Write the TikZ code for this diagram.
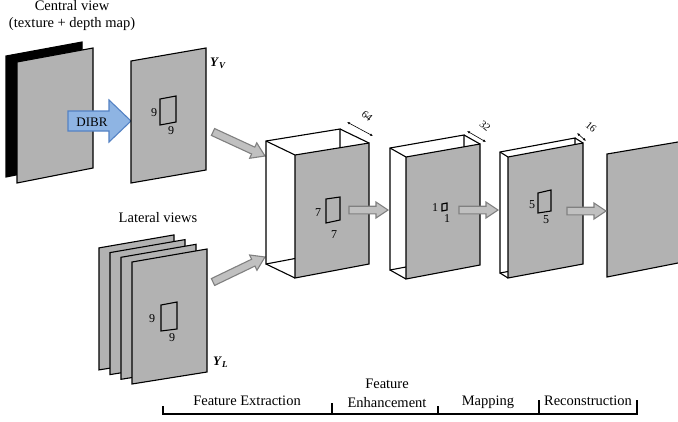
\documentclass[tikz,border=0pt]{standalone}
\usepackage{fontspec}
\setmainfont{Liberation Serif}
\usetikzlibrary{calc,arrows.meta}

\definecolor{panelgray}{RGB}{178,178,178}
\definecolor{flowfill}{RGB}{192,192,192}
\definecolor{flowline}{RGB}{128,128,128}
\definecolor{dibrfill}{RGB}{142,180,227}
\definecolor{dibrline}{RGB}{84,130,196}

\tikzset{
  panel/.style={fill=panelgray, draw=black, line width=1.1pt, line join=miter},
  boxline/.style={fill=white, draw=black, line width=1.1pt, line join=miter},
  edge/.style={draw=black, line width=1.1pt},
  kernel/.style={draw=black, line width=1.1pt, line join=miter},
  flow/.style={fill=flowfill, draw=flowline, line width=1.1pt, line join=miter},
  dibr/.style={fill=dibrfill, draw=dibrline, line width=1.1pt, line join=miter},
  lbl/.style={font=\fontsize{14.5}{16}\selectfont, inner sep=0pt, anchor=base},
  dibrlbl/.style={font=\fontsize{13}{14}\selectfont, inner sep=0pt, anchor=base},
  dig/.style={font=\fontsize{12}{13}\selectfont, inner sep=0pt},
  dimlbl/.style={font=\fontsize{10.5}{11}\selectfont, inner sep=0pt, rotate=-40},
  dimarrow/.style={{Latex[length=3pt,width=2.6pt]}-{Latex[length=3pt,width=2.6pt]}, line width=0.6pt},
  bracket/.style={line width=1.1pt},
  ylbl/.style={font=\fontsize{13}{14}\selectfont, inner sep=0pt, anchor=base west},
}

% block arrow: style, from, to, shaft half-width, head half-width, head length
\newcommand\blockarrow[6]{%
  \path ($(#3)!#6!(#2)$) coordinate (ba-neck);
  \filldraw[#1] ($(#2)!#4!90:(#3)$) -- ($(ba-neck)!#4!90:(#3)$)
    -- ($(ba-neck)!#5!90:(#3)$) -- (#3) -- ($(ba-neck)!#5!-90:(#3)$)
    -- ($(ba-neck)!#4!-90:(#3)$) -- ($(#2)!#4!-90:(#3)$) -- cycle;
}

% feature-map block: name, front TL, TR, BR, BL, depth offset
\newcommand\featblock[6]{%
  \coordinate (#1-tl) at (#2); \coordinate (#1-tr) at (#3);
  \coordinate (#1-br) at (#4); \coordinate (#1-bl) at (#5);
  \coordinate (#1-btl) at ($(#1-tl)+(#6)$); \coordinate (#1-btr) at ($(#1-tr)+(#6)$);
  \coordinate (#1-bbr) at ($(#1-br)+(#6)$); \coordinate (#1-bbl) at ($(#1-bl)+(#6)$);
  \filldraw[boxline] (#1-btl) -- (#1-btr) -- (#1-bbr) -- (#1-bbl) -- cycle;
  \draw[edge] (#1-btl) -- (#1-tl) (#1-btr) -- (#1-tr) (#1-bbl) -- (#1-bl);
  \filldraw[panel] (#1-tl) -- (#1-tr) -- (#1-br) -- (#1-bl) -- cycle;
}

\begin{document}
\begin{tikzpicture}[x=1pt, y=-1pt]
\fill[white] (0,0) rectangle (678,421);
\useasboundingbox (0,0) rectangle (678,421);

% ---- central view: texture + depth map
\node[lbl] (cv1) at (72,10) {Central view};
\node[lbl] (cv2) at (72,27) {(texture + depth map)};
\filldraw[fill=black, draw=black, line width=1.1pt] (6,56) -- (82,42) -- (82,162) -- (6,177) -- cycle;
\filldraw[panel] (17,62) -- (93,48) -- (93,168) -- (17,183) -- cycle;

% ---- DIBR arrow
\coordinate (dibr-a) at (68,121);
\coordinate (dibr-b) at (131,121);
\blockarrow{dibr}{dibr-a}{dibr-b}{10pt}{21pt}{22pt}
\node[dibrlbl] (dibrtxt) at (92,126) {DIBR};

% ---- synthesized view Y_V
\filldraw[panel] (131,61) -- (206,48) -- (206,170) -- (131,183) -- cycle;
\draw[kernel] (160,99) -- (176,96) -- (176,122) -- (160,125) -- cycle;
\node[dig] (yvk1) at (154,113) {9};
\node[dig] (yvk2) at (171,131) {9};
\node[ylbl] (yv) at (210,66) {\textbf{\textit{Y}}\raisebox{-0.35ex}{\fontsize{9}{9}\selectfont\bfseries\itshape V}};

% ---- lateral views Y_L
\node[lbl] (lv) at (158,222) {Lateral views};
\foreach \k in {3,2,1,0}{
  \begin{scope}[shift={(-11*\k,-4.7*\k)}]
    \filldraw[panel] (132,262) -- (207,249) -- (207,372) -- (132,384) -- cycle;
  \end{scope}
}
\draw[kernel] (161,305) -- (177,302) -- (177,329) -- (161,331) -- cycle;
\node[dig] (ylk1) at (152,319) {9};
\node[dig] (ylk2) at (172,338) {9};
\node[ylbl] (yl) at (213,365) {\textbf{\textit{Y}}\raisebox{-0.35ex}{\fontsize{9}{9}\selectfont\bfseries\itshape L}};

% ---- arrows into feature extraction
\coordinate (yv-out) at (213,132);
\coordinate (fe-in1) at (265,156);
\coordinate (yl-out) at (213,282);
\coordinate (fe-in2) at (265,257);
\blockarrow{flow}{yv-out}{fe-in1}{3.8pt}{8.5pt}{13pt}
\blockarrow{flow}{yl-out}{fe-in2}{3.8pt}{8.5pt}{13pt}

% ---- feature extraction (64 maps)
\featblock{fe}{295,155}{369,143}{369,264}{295,278}{-29,-14}
\draw[kernel] (326,199) -- (340,197) -- (340,220) -- (326,223) -- cycle;
\node[dig] (fek1) at (318,213) {7};
\node[dig] (fek2) at (334,235) {7};
\coordinate (fe-d1) at (347,122);
\coordinate (fe-d2) at (373,136);
\draw[dimarrow] (fe-d1) -- (fe-d2);
\node[dimlbl] (fen) at (367,116) {64};

% ---- feature enhancement (32 maps)
\featblock{en}{406,157}{480,144}{480,265}{406,279}{-16,-9}
\draw[kernel] (442,204) -- (447,203) -- (447,210) -- (442,211) -- cycle;
\node[dig] (enk1) at (435,208) {1};
\node[dig] (enk2) at (447,219) {1};
\coordinate (en-d1) at (467,131);
\coordinate (en-d2) at (486,142);
\draw[dimarrow] (en-d1) -- (en-d2);
\node[dimlbl] (enn) at (485,126) {32};

% ---- mapping (16 maps)
\featblock{mp}{508,157}{583,143}{583,264}{508,278}{-8,-5}
\draw[kernel] (538,193) -- (551,190) -- (551,211) -- (538,213) -- cycle;
\node[dig] (mpk1) at (532,205) {5};
\node[dig] (mpk2) at (546,220) {5};
\coordinate (mp-d1) at (577,133);
\coordinate (mp-d2) at (586,141);
\draw[dimarrow] (mp-d1) -- (mp-d2);
\node[dimlbl] (mpn) at (591,127) {16};

% ---- reconstruction output
\fill[panelgray] (607,154) -- (678,142) -- (678,263) -- (607,277) -- cycle;
\draw[edge, line join=miter] (678,142) -- (607,154) -- (607,277) -- (678,263);

% ---- arrows between stages
\coordinate (fe-out) at (349,210);
\coordinate (en-in) at (388,210);
\coordinate (en-out) at (459,210);
\coordinate (mp-in) at (498,210);
\coordinate (mp-out) at (567,211);
\coordinate (rc-in) at (606,211);
\blockarrow{flow}{fe-out}{en-in}{3.8pt}{8pt}{12pt}
\blockarrow{flow}{en-out}{mp-in}{3.8pt}{8pt}{12pt}
\blockarrow{flow}{mp-out}{rc-in}{3.8pt}{8pt}{12pt}

% ---- stage bracket
\draw[bracket] (163,406) -- (163,414) -- (637,414) -- (637,400);
\draw[bracket] (332,403) -- (332,414);
\draw[bracket] (438,406) -- (438,414);
\draw[bracket] (539,400) -- (539,414);
\node[lbl] (s1) at (247,405) {Feature Extraction};
\node[lbl] (s2a) at (387,388) {Feature};
\node[lbl] (s2b) at (387,407) {Enhancement};
\node[lbl] (s3) at (488,405) {Mapping};
\node[lbl] (s4) at (588,405) {Reconstruction};
\end{tikzpicture}
\end{document}
